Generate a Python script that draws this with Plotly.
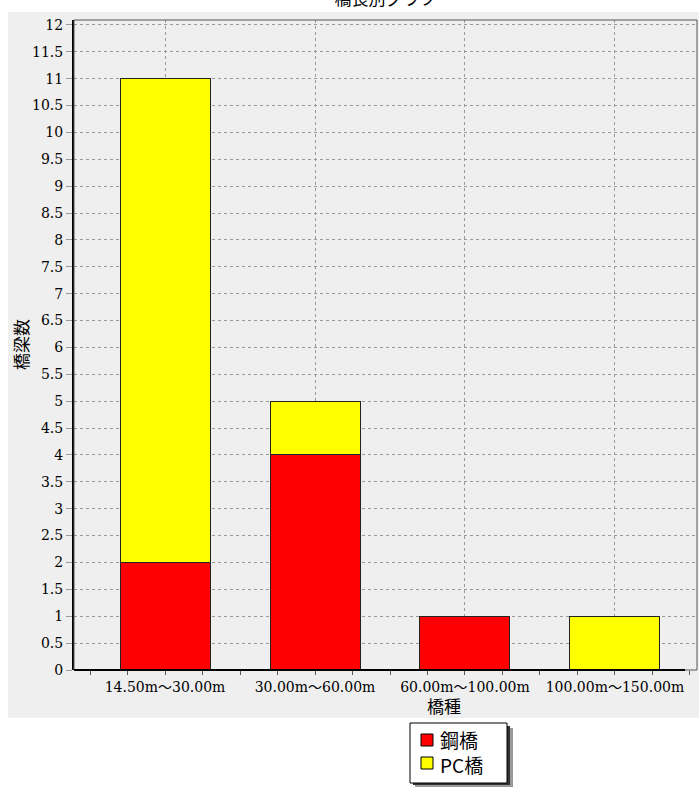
import plotly.graph_objects as go

# Span classes (bridge length) and bridge counts per structure type
categories = ["14.50m～30.00m", "30.00m～60.00m", "60.00m～100.00m", "100.00m～150.00m"]
series_names = ["鋼橋", "PC橋"]
steel_counts = [2, 4, 1, 0]   # 鋼橋
pc_counts = [9, 1, 0, 1]      # PC橋
series_colors = ["#ff0000", "#ffff00"]
y_tick_step = 0.5

W, H = 699, 787
L, R, T, B = 74, 2, 20, 117
PW, PH = W - L - R, H - T - B


def px_x(x):
    return (x - L) / PW


def px_y(y):
    return (H - B - y) / PH


xs = list(range(len(categories)))
serif = "DejaVu Serif, Noto Sans CJK JP, serif"
cjk = "Noto Sans CJK JP, sans-serif"

fig = go.Figure()
for name, vals, col in zip(series_names, [steel_counts, pc_counts], series_colors):
    fig.add_trace(go.Bar(
        x=xs, y=vals, name=name, width=0.6, showlegend=False,
        marker=dict(color=col, line=dict(color="#222222", width=1)),
    ))

shapes = [
    # grey panel behind the chart
    dict(type="rect", xref="paper", yref="paper", layer="below",
         x0=px_x(8), x1=px_x(699), y0=px_y(718), y1=px_y(12),
         fillcolor="#efefef", line=dict(width=0)),
    # plot frame (top / right)
    dict(type="rect", xref="paper", yref="paper", layer="above",
         x0=0, x1=1, y0=0, y1=1, line=dict(color="#555555", width=1)),
    # x axis baseline
    dict(type="line", xref="paper", yref="paper", layer="above",
         x0=0, x1=px_x(685), y0=0, y1=0, line=dict(color="#000000", width=2)),
    # key box: soft drop shadow, then the white box
    dict(type="rect", xref="paper", yref="paper", layer="above",
         x0=px_x(415), x1=px_x(513), y0=px_y(787), y1=px_y(728),
         fillcolor="#9a9a9a", line=dict(width=0)),
    dict(type="rect", xref="paper", yref="paper", layer="above",
         x0=px_x(413), x1=px_x(510), y0=px_y(785), y1=px_y(726),
         fillcolor="#333333", line=dict(width=0)),
    dict(type="rect", xref="paper", yref="paper", layer="above",
         x0=px_x(410), x1=px_x(507), y0=px_y(783), y1=px_y(723),
         fillcolor="#ffffff", line=dict(color="#000000", width=1)),
]

# key swatches
for i, col in enumerate(series_colors):
    cy = 740 + i * 23
    shapes.append(dict(type="rect", xref="paper", yref="paper", layer="above",
                       x0=px_x(421), x1=px_x(433), y0=px_y(cy + 6), y1=px_y(cy - 6),
                       fillcolor=col, line=dict(color="#000000", width=1)))

annotations = [
    dict(text="橋梁数", xref="paper", yref="paper", x=px_x(20), y=px_y(345),
         xanchor="center", yanchor="middle",
         textangle=-90, showarrow=False, font=dict(family=cjk, size=17, color="#000000")),
    dict(text="橋種", xref="paper", yref="paper", x=px_x(444), y=px_y(705),
         xanchor="center", yanchor="middle",
         showarrow=False, font=dict(family=cjk, size=17, color="#000000")),
    # key labels
    dict(text="<br>".join(series_names), xref="paper", yref="paper",
         x=px_x(438), y=px_y(752), xanchor="left", yanchor="middle", align="left",
         showarrow=False, font=dict(family=cjk, size=19, color="#000000")),
]

fig.update_layout(
    width=W, height=H,
    margin=dict(l=L, r=R, t=T, b=B, autoexpand=False),
    paper_bgcolor="#ffffff",
    plot_bgcolor="#efefef",
    barmode="stack",
    title=dict(text="橋長別グラフ", x=0.5, xanchor="center",
               xref="paper", y=1 - 5 / H, yref="container", yanchor="bottom",
               font=dict(family=cjk, size=17, color="#000000")),
    showlegend=False,
    shapes=shapes,
    annotations=annotations,
)

fig.update_xaxes(
    range=[-0.607, 3.547],
    tickmode="array", tickvals=xs, ticktext=categories,
    ticks="outside", ticklen=4, tickcolor="#555555",
    tickfont=dict(family=serif, size=14, color="#000000"),
    showgrid=True, gridcolor="#999999", griddash="3px,3px", gridwidth=1,
    minor=dict(tick0=0, dtick=0.25, ticks="outside", ticklen=4,
               tickcolor="#555555", showgrid=False),
    showline=False, zeroline=False,
)
fig.update_yaxes(
    range=[0, 12.09], dtick=y_tick_step, tick0=0,
    ticks="outside", ticklen=6, tickcolor="#999999",
    tickfont=dict(family=serif, size=14, color="#000000"),
    showgrid=True, gridcolor="#999999", griddash="3px,3px", gridwidth=1,
    showline=True, linecolor="#000000", linewidth=2,
    zeroline=False,
)

fig.write_html("out.html")
